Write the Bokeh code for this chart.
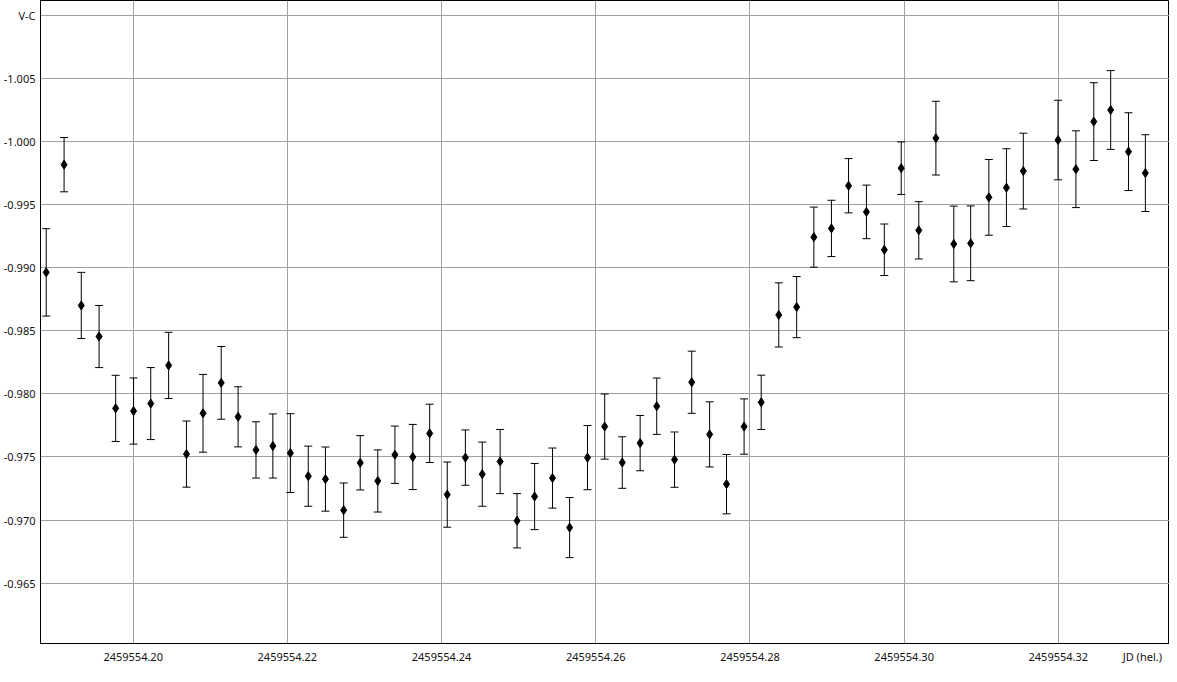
from bokeh.plotting import figure
from bokeh.models import ColumnDataSource, Whisker, Range1d, FixedTicker, PrintfTickFormatter
from bokeh.embed import file_html
from bokeh.resources import INLINE

JD0 = 2459554.0
jd_frac = [0.18872, 0.19104, 0.19327, 0.19558, 0.19773, 0.20005, 0.20228, 0.20460,
           0.20691, 0.20906, 0.21142, 0.21361, 0.21593, 0.21812, 0.22039, 0.22271,
           0.22494, 0.22730, 0.22945, 0.23173, 0.23395, 0.23627, 0.23846, 0.24074,
           0.24309, 0.24528, 0.24760, 0.24979, 0.25207, 0.25439, 0.25661, 0.25893,
           0.26116, 0.26344, 0.26576, 0.26791, 0.27022, 0.27245, 0.27477, 0.27696,
           0.27924, 0.28146, 0.28374, 0.28606, 0.28829, 0.29057, 0.29279, 0.29511,
           0.29743, 0.29962, 0.30190, 0.30412, 0.30644, 0.30863, 0.31099, 0.31327,
           0.31546, 0.31996, 0.32228, 0.32460, 0.32679, 0.32910, 0.33129]
v_c = [-0.98962, -0.99815, -0.98700, -0.98454, -0.97885, -0.97864, -0.97923, -0.98225,
       -0.97523, -0.97846, -0.98087, -0.97818, -0.97556, -0.97587, -0.97531, -0.97348,
       -0.97325, -0.97079, -0.97454, -0.97310, -0.97518, -0.97500, -0.97687, -0.97202,
       -0.97495, -0.97364, -0.97464, -0.96995, -0.97187, -0.97333, -0.96941, -0.97495,
       -0.97741, -0.97456, -0.97610, -0.97902, -0.97479, -0.98092, -0.97679, -0.97285,
       -0.97741, -0.97933, -0.98625, -0.98687, -0.99241, -0.99310, -0.99648, -0.99441,
       -0.99141, -0.99787, -0.99295, -1.00025, -0.99187, -0.99192, -0.99556, -0.99633,
       -0.99764, -1.00010, -0.99779, -1.00156, -1.00248, -0.99918, -0.99748]
err = [0.00346, 0.00215, 0.00262, 0.00246, 0.00262, 0.00262, 0.00285, 0.00262,
       0.00262, 0.00308, 0.00288, 0.00238, 0.00223, 0.00254, 0.00312, 0.00238,
       0.00254, 0.00215, 0.00215, 0.00246, 0.00227, 0.00258, 0.00231, 0.00258,
       0.00219, 0.00254, 0.00254, 0.00215, 0.00262, 0.00238, 0.00238, 0.00254,
       0.00258, 0.00204, 0.00219, 0.00223, 0.00219, 0.00246, 0.00258, 0.00235,
       0.00219, 0.00215, 0.00254, 0.00242, 0.00238, 0.00223, 0.00215, 0.00212,
       0.00204, 0.00208, 0.00227, 0.00292, 0.00300, 0.00296, 0.00300, 0.00308,
       0.00300, 0.00315, 0.00304, 0.00308, 0.00312, 0.00308, 0.00304]

x_ticks = [2459554.20, 2459554.22, 2459554.24, 2459554.26, 2459554.28, 2459554.30, 2459554.32]
x_title_pos = 2459554.3309
y_ticks = [-1.010, -1.005, -1.000, -0.995, -0.990, -0.985, -0.980, -0.975, -0.970, -0.965]

jd = [JD0 + f for f in jd_frac]
src = ColumnDataSource(dict(x=jd, y=v_c,
                            lo=[a - e for a, e in zip(v_c, err)],
                            hi=[a + e for a, e in zip(v_c, err)]))

FONT = "Noto Sans"
p = figure(width=1169, height=666, output_backend="svg", toolbar_location=None,
           x_range=Range1d(JD0 + 0.18798, JD0 + 0.33442),
           y_range=Range1d(-0.96023, -1.01115),
           min_border_left=0, min_border_right=0, min_border_top=0, min_border_bottom=0)
p.background_fill_color = "white"
p.border_fill_color = "white"
p.outline_line_color = "black"
p.outline_line_width = 1

# grids
p.xgrid.ticker = FixedTicker(ticks=x_ticks)
p.ygrid.ticker = FixedTicker(ticks=y_ticks)
for g in (p.xgrid, p.ygrid):
    g.grid_line_color = "#a0a0a0"
    g.grid_line_width = 1

# axes
p.xaxis.ticker = FixedTicker(ticks=x_ticks + [x_title_pos])
p.xaxis.formatter = PrintfTickFormatter(format="%.2f")
p.xaxis.major_label_overrides = {x_title_pos: "JD (hel.)"}
p.yaxis.ticker = FixedTicker(ticks=y_ticks)
p.yaxis.formatter = PrintfTickFormatter(format="%.3f")
p.yaxis.major_label_overrides = {-1.010: "V-C"}
for ax in (p.xaxis, p.yaxis):
    ax.axis_line_color = "black"
    ax.axis_line_width = 1
    ax.major_tick_line_color = None
    ax.minor_tick_line_color = None
    ax.major_tick_in = 0
    ax.major_tick_out = 0
    ax.major_label_text_font = FONT
    ax.major_label_text_font_size = "11px"
    ax.major_label_text_color = "#111111"
p.xaxis.major_label_standoff = 5
p.yaxis.major_label_standoff = 5

wh = Whisker(source=src, base="x", lower="lo", upper="hi", dimension="height",
             line_color="black", line_width=1)
wh.upper_head.size = 8
wh.lower_head.size = 8
wh.upper_head.line_width = 1
wh.lower_head.line_width = 1
p.add_layout(wh)

p.scatter("x", "y", source=src, marker="diamond", size=9, color="black")

open("out.html", "w").write(file_html(p, INLINE))
